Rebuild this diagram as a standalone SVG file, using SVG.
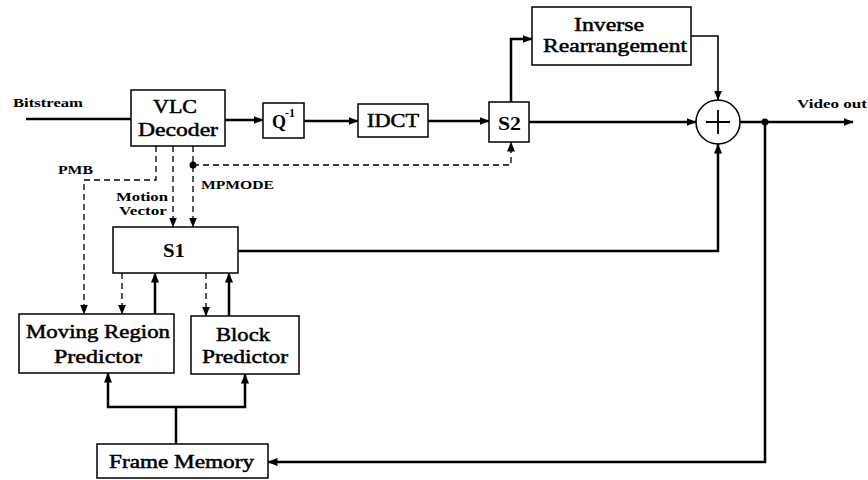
<svg xmlns="http://www.w3.org/2000/svg" width="868" height="480" viewBox="0 0 868 480">
<defs>
<marker id="ah" markerUnits="userSpaceOnUse" markerWidth="10" markerHeight="10" viewBox="0 0 10 10" refX="9.5" refY="5" orient="auto">
<path d="M0,1 L10,5 L0,9 Z" fill="#000"/>
</marker>
</defs>
<style>
.box{fill:#fff;stroke:#000;stroke-width:1.5}
.lbl{font-family:"Liberation Serif","Times New Roman",serif;font-size:19px;fill:#000;stroke:#000;stroke-width:0.5}
.bl{font-family:"Liberation Serif","Times New Roman",serif;font-weight:bold;font-size:18px;fill:#000}
.sm{font-family:"Liberation Serif","Times New Roman",serif;font-weight:bold;font-size:12px;fill:#000}
.thick{fill:none;stroke:#000;stroke-width:2.5}
.thin{fill:none;stroke:#000;stroke-width:1.6}
.dash{fill:none;stroke:#000;stroke-width:1.3;stroke-dasharray:6 4}
</style>
<rect width="868" height="480" fill="#fff"/>
<g id="connectors">
<path class="thick" d="M26,119 H131"/>
<path class="thick" d="M225,120 H263" marker-end="url(#ah)"/>
<path class="thick" d="M304,121 H358" marker-end="url(#ah)"/>
<path class="thick" d="M428,121 H489" marker-end="url(#ah)"/>
<path class="thick" d="M511,102 V39 H532" marker-end="url(#ah)"/>
<path class="thin" d="M691,36 H718 V100" marker-end="url(#ah)"/>
<path class="thick" d="M529,122 H696" marker-end="url(#ah)"/>
<path class="thick" d="M740,122 H853" marker-end="url(#ah)"/>
<circle cx="765" cy="122" r="3.5" fill="#000"/>
<path class="thick" d="M765,122 V462 H268" marker-end="url(#ah)"/>
<path class="thick" d="M238,251 H718 V144" marker-end="url(#ah)"/>
<path class="dash" d="M156,146 V180 H84 V314" marker-end="url(#ah)"/>
<path class="dash" d="M173,146 V227" marker-end="url(#ah)"/>
<path class="dash" d="M193,146 V227" marker-end="url(#ah)"/>
<circle cx="193" cy="165" r="3.5" fill="#000"/>
<path class="dash" d="M193,165 H511 V142" marker-end="url(#ah)"/>
<path class="dash" d="M122,273 V314" marker-end="url(#ah)"/>
<path class="thick" d="M155,314 V273" marker-end="url(#ah)"/>
<path class="dash" d="M206,273 V316" marker-end="url(#ah)"/>
<path class="thick" d="M229,316 V273" marker-end="url(#ah)"/>
<path class="thick" d="M176,444 V407"/>
<path class="thick" d="M176,407 H108 V373" marker-end="url(#ah)"/>
<path class="thick" d="M176,407 H245 V374" marker-end="url(#ah)"/>
</g>
<g id="labels">
<text class="sm" x="13" y="107" textLength="70" lengthAdjust="spacingAndGlyphs">Bitstream</text>
<text class="sm" x="58" y="174" textLength="35" lengthAdjust="spacingAndGlyphs">PMB</text>
<text class="sm" x="116" y="201" textLength="52" lengthAdjust="spacingAndGlyphs">Motion</text>
<text class="sm" x="119" y="215" textLength="48" lengthAdjust="spacingAndGlyphs">Vector</text>
<text class="sm" x="201" y="189" textLength="73" lengthAdjust="spacingAndGlyphs">MPMODE</text>
<text class="sm" x="797" y="108" textLength="70" lengthAdjust="spacingAndGlyphs">Video out</text>
</g>
<g id="vlc">
<rect class="box" x="131" y="90" width="94" height="56"/>
<text class="lbl" x="153" y="113" textLength="44" lengthAdjust="spacingAndGlyphs">VLC</text>
<text class="lbl" x="138" y="136" textLength="80" lengthAdjust="spacingAndGlyphs">Decoder</text>
</g>
<g id="q">
<rect class="box" x="263" y="103" width="41" height="35"/>
<text class="bl" x="272" y="128">Q</text>
<text class="sm" x="285" y="117" font-size="9">-1</text>
</g>
<g id="idct">
<rect class="box" x="358" y="104" width="70" height="33"/>
<text class="lbl" x="367" y="127" textLength="52" lengthAdjust="spacingAndGlyphs">IDCT</text>
</g>
<g id="s2">
<rect class="box" x="489" y="102" width="40" height="40"/>
<text class="bl" x="498" y="130" textLength="23" lengthAdjust="spacingAndGlyphs">S2</text>
</g>
<g id="invrearr">
<rect class="box" x="532" y="7" width="159" height="58"/>
<text class="lbl" x="574" y="31" textLength="70" lengthAdjust="spacingAndGlyphs">Inverse</text>
<text class="lbl" x="543" y="52" textLength="144" lengthAdjust="spacingAndGlyphs">Rearrangement</text>
</g>
<g id="adder">
<circle cx="718" cy="122" r="22" fill="#fff" stroke="#000" stroke-width="1.5"/>
<path d="M706,122 H730 M718,110 V134" stroke="#000" stroke-width="1.8"/>
</g>
<g id="s1">
<rect class="box" x="113" y="227" width="125" height="46"/>
<text class="bl" x="163" y="257" textLength="22" lengthAdjust="spacingAndGlyphs">S1</text>
</g>
<g id="mrp">
<rect class="box" x="19" y="314" width="155" height="59"/>
<text class="lbl" x="26" y="338" textLength="144" lengthAdjust="spacingAndGlyphs">Moving Region</text>
<text class="lbl" x="54" y="363" textLength="88" lengthAdjust="spacingAndGlyphs">Predictor</text>
</g>
<g id="bp">
<rect class="box" x="191" y="316" width="108" height="58"/>
<text class="lbl" x="216" y="341" textLength="54" lengthAdjust="spacingAndGlyphs">Block</text>
<text class="lbl" x="202" y="363" textLength="86" lengthAdjust="spacingAndGlyphs">Predictor</text>
</g>
<g id="fm">
<rect class="box" x="97" y="444" width="171" height="34"/>
<text class="lbl" x="109" y="468" textLength="145" lengthAdjust="spacingAndGlyphs">Frame Memory</text>
</g>
</svg>
